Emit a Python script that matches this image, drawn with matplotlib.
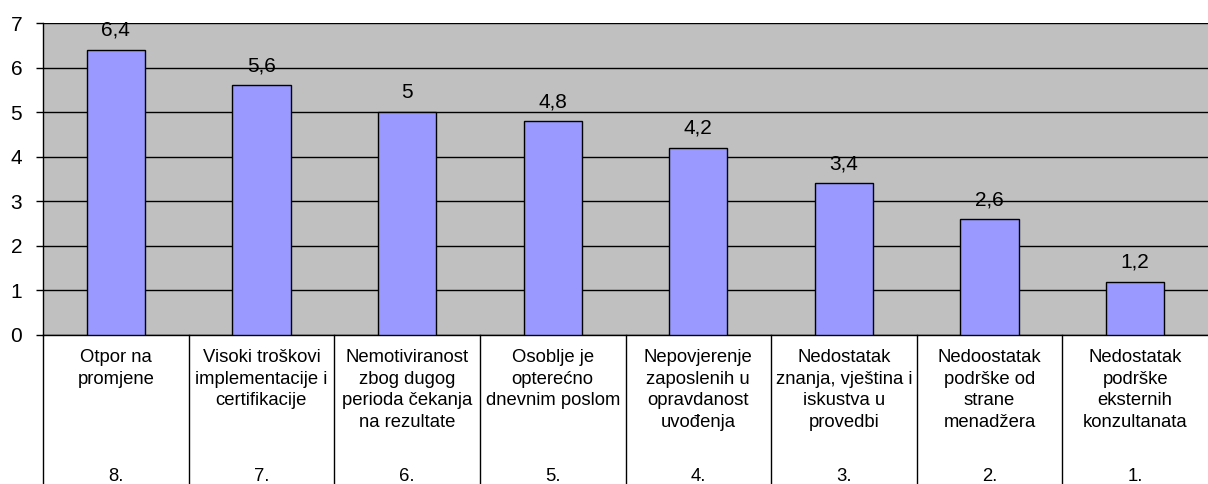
import matplotlib.pyplot as plt
from matplotlib.transforms import blended_transform_factory

# podaci
kategorije = [
    "Otpor na\npromjene",
    "Visoki troškovi\nimplementacije i\ncertifikacije",
    "Nemotiviranost\nzbog dugog\nperioda čekanja\nna rezultate",
    "Osoblje je\nopterećno\ndnevnim poslom",
    "Nepovjerenje\nzaposlenih u\nopravdanost\nuvođenja",
    "Nedostatak\nznanja, vještina i\niskustva u\nprovedbi",
    "Nedoostatak\npodrške od\nstrane\nmenadžera",
    "Nedostatak\npodrške\neksternih\nkonzultanata",
]
rangovi = ["8.", "7.", "6.", "5.", "4.", "3.", "2.", "1."]
vrijednosti = [6.4, 5.6, 5.0, 4.8, 4.2, 3.4, 2.6, 1.2]
y_oznake = [0, 1, 2, 3, 4, 5, 6, 7]

COR_FUNDO = "#C0C0C0"
COR_BARRA = "#9999FF"

plt.rcParams['font.family'] = ['Liberation Sans', 'DejaVu Sans']

fig = plt.figure(figsize=(12.08, 4.84), dpi=100)
ax = fig.add_axes([43 / 1208, 149 / 484, 1165 / 1208, 312 / 484])
ax.set_facecolor(COR_FUNDO)

x = list(range(len(vrijednosti)))
ax.bar(x, vrijednosti, width=0.4, color=COR_BARRA, edgecolor='black', linewidth=1, zorder=3)

for xi, v in zip(x, vrijednosti):
    ax.annotate(f"{v:g}".replace('.', ','), (xi, v), xytext=(0, 10),
                textcoords='offset points', ha='center', va='baseline', fontsize=15)

ax.set_xlim(-0.5, 7.5)
ax.set_ylim(0, 7)
ax.set_yticks(y_oznake)
ax.tick_params(axis='y', length=5, width=1, labelsize=15, pad=10)
ax.set_xticks([])
ax.yaxis.grid(True, color='black', linewidth=1)
ax.set_axisbelow(True)
for lado in ['top', 'right']:
    ax.spines[lado].set_visible(False)
ax.spines['left'].set_linewidth(1)
ax.spines['bottom'].set_linewidth(1)

# eixo de categorias em dois níveis
trans = blended_transform_factory(ax.transData, ax.transAxes)
for i in range(len(vrijednosti)):
    ax.plot([i - 0.5, i - 0.5], [0, -0.48], color='black', lw=1,
            transform=trans, clip_on=False)
for xi, rotulo, rang in zip(x, kategorije, rangovi):
    ax.text(xi, -0.045, rotulo, transform=trans, ha='center', va='top',
            fontsize=13.3, linespacing=1.35)
    ax.text(xi, -0.455, rang, transform=trans, ha='center', va='center', fontsize=13.3)

plt.savefig('out.png', dpi=100)
